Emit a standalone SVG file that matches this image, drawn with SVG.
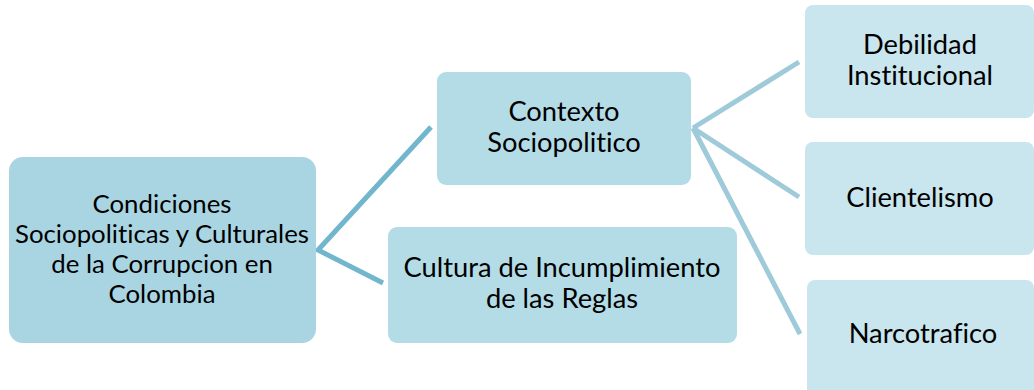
<svg xmlns="http://www.w3.org/2000/svg" width="1034" height="390" viewBox="0 0 1034 390">
<style>
text{font-family:Lato,"Open Sans","Liberation Sans",sans-serif;font-size:27.3px;fill:#000;text-anchor:middle;font-variant-ligatures:none;font-feature-settings:"liga" 0}
#root text{font-size:25.8px}
.l0{fill:#a9d5e2}
.l1{fill:#b4dce6}
.l2{fill:#c9e5ee}
.c0{stroke:#72b6cd;stroke-width:5;fill:none}
.c1{stroke:#9fcad9;stroke-width:5;fill:none}
</style>
<rect width="1034" height="390" fill="#fff"/>
<g id="connectors">
<polyline class="c0" points="431,127 318,250 383,283"/>
<line class="c1" x1="693" y1="128" x2="799" y2="62"/>
<line class="c1" x1="693" y1="128" x2="799" y2="197"/>
<line class="c1" x1="693" y1="128" x2="800" y2="334"/>
</g>
<g id="root">
<rect class="l0" x="9" y="157" width="307" height="186" rx="14"/>
<text x="162" y="213">Condiciones</text>
<text x="162" y="243">Sociopoliticas y Culturales</text>
<text x="162" y="273">de la Corrupcion en</text>
<text x="162" y="303">Colombia</text>
</g>
<g id="contexto">
<rect class="l1" x="437" y="72" width="254" height="113" rx="9"/>
<text x="564" y="121">Contexto</text>
<text x="564" y="152">Sociopolitico</text>
</g>
<g id="cultura">
<rect class="l1" x="388" y="227" width="349" height="116" rx="9"/>
<text x="562" y="277">Cultura de Incumplimiento</text>
<text x="562" y="308">de las Reglas</text>
</g>
<g id="debilidad">
<rect class="l2" x="805" y="5" width="229" height="113" rx="8"/>
<text x="920" y="54">Debilidad</text>
<text x="920" y="85">Institucional</text>
</g>
<g id="clientelismo">
<rect class="l2" x="805" y="142" width="229" height="113" rx="8"/>
<text x="920" y="207">Clientelismo</text>
</g>
<g id="narcotrafico">
<rect class="l2" x="807" y="280" width="227" height="118" rx="8"/>
<text x="923" y="343">Narcotrafico</text>
</g>
</svg>
